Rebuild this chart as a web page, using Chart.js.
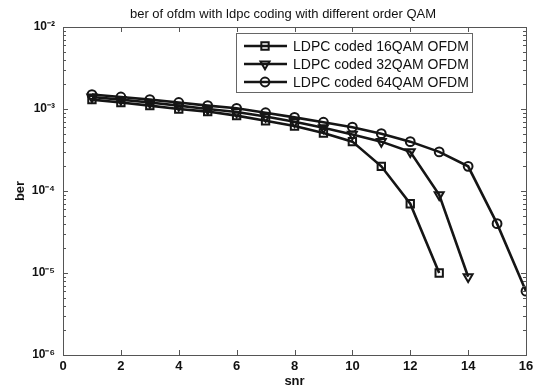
<!DOCTYPE html>
<html>
<head>
<meta charset="utf-8">
<script src="https://cdn.jsdelivr.net/npm/chart.js@4/dist/chart.umd.min.js"></script>
<style>
  html, body { margin: 0; padding: 0; background: #fff; }
  #wrap { width: 542px; height: 389px; }
</style>
</head>
<body>
<div id="wrap"><canvas id="c" width="542" height="389"></canvas></div>
<script>
// values
const snr = [1, 2, 3, 4, 5, 6, 7, 8, 9, 10, 11, 12, 13, 14, 15, 16];
const ber16 = [1.3e-3, 1.2e-3, 1.1e-3, 1.0e-3, 9.3e-4, 8.3e-4, 7.2e-4, 6.2e-4, 5.1e-4, 4.0e-4, 2.0e-4, 7e-5, 1e-5];
const ber32 = [1.4e-3, 1.3e-3, 1.2e-3, 1.1e-3, 1.0e-3, 9.2e-4, 8.1e-4, 7.0e-4, 5.9e-4, 4.9e-4, 4.0e-4, 3.0e-4, 9e-5, 9e-6];
const ber64 = [1.5e-3, 1.4e-3, 1.3e-3, 1.2e-3, 1.1e-3, 1.02e-3, 9.0e-4, 7.9e-4, 6.9e-4, 6.0e-4, 5.0e-4, 4.0e-4, 3.0e-4, 2.0e-4, 4e-5, 6e-6];
const seriesNames = ['LDPC coded 16QAM OFDM', 'LDPC coded 32QAM OFDM', 'LDPC coded 64QAM OFDM'];
const yDecades = [1e-6, 1e-5, 1e-4, 1e-3, 1e-2];
const yTickLabels = ['10\u207B\u2076', '10\u207B\u2075', '10\u207B\u2074', '10\u207B\u00B3', '10\u207B\u00B2'];
const titleText = 'ber of ofdm with ldpc coding with different order QAM';

const FONT = '"Liberation Sans", Arial, Helvetica, sans-serif';
Chart.defaults.font.family = FONT;
Chart.defaults.color = '#111';

const toPoints = (vals) => vals.map((v, i) => ({ x: snr[i], y: v }));

function lineSet(label, vals, style, rot) {
  return {
    label,
    data: toPoints(vals),
    borderColor: '#151515',
    borderWidth: 2.6,
    pointStyle: style,
    pointRotation: rot,
    pointRadius: style === 'circle' ? 4.4 : 5.2,
    pointBorderWidth: 2,
    pointBorderColor: '#151515',
    pointBackgroundColor: 'rgba(0,0,0,0)',
    tension: 0
  };
}

// axes box + inward ticks, MATLAB style
const framePlugin = {
  id: 'frame',
  afterDraw(chart) {
    const { ctx, chartArea: a, scales } = chart;
    const xs = scales.x, ys = scales.y;
    ctx.save();
    ctx.strokeStyle = '#555';
    ctx.lineWidth = 1;
    ctx.strokeRect(a.left + 0.5, a.top + 0.5, a.right - a.left, a.bottom - a.top);
    ctx.beginPath();
    xs.ticks.forEach(t => {
      const px = Math.round(xs.getPixelForValue(t.value)) + 0.5;
      ctx.moveTo(px, a.bottom); ctx.lineTo(px, a.bottom - 5);
      ctx.moveTo(px, a.top); ctx.lineTo(px, a.top + 5);
    });
    yDecades.forEach((d, i) => {
      const py = Math.round(ys.getPixelForValue(d)) + 0.5;
      ctx.moveTo(a.left, py); ctx.lineTo(a.left + 5, py);
      ctx.moveTo(a.right, py); ctx.lineTo(a.right - 5, py);
      if (i < yDecades.length - 1) {
        for (let k = 2; k <= 9; k++) {
          const pm = Math.round(ys.getPixelForValue(d * k)) + 0.5;
          ctx.moveTo(a.left, pm); ctx.lineTo(a.left + 3, pm);
          ctx.moveTo(a.right, pm); ctx.lineTo(a.right - 3, pm);
        }
      }
    });
    ctx.stroke();

    // title
    ctx.fillStyle = '#111';
    ctx.font = '13px ' + FONT;
    ctx.textAlign = 'center';
    ctx.textBaseline = 'middle';
    ctx.fillText(titleText, 283, 14);

    // legend box
    const lw = 236, lh = 59;
    const lx = a.right - 54 - lw, ly = a.top + 6;
    ctx.fillStyle = '#fff';
    ctx.fillRect(lx, ly, lw, lh);
    ctx.strokeStyle = '#666';
    ctx.strokeRect(lx + 0.5, ly + 0.5, lw, lh);
    chart.data.datasets.forEach((ds, i) => {
      const cy = ly + 13 + i * 18;
      ctx.strokeStyle = ds.borderColor;
      ctx.lineWidth = ds.borderWidth;
      ctx.beginPath();
      ctx.moveTo(lx + 8, cy); ctx.lineTo(lx + 51, cy);
      ctx.stroke();
      ctx.lineWidth = ds.pointBorderWidth;
      ctx.fillStyle = ds.pointBackgroundColor;
      Chart.helpers.drawPoint(ctx, {
        pointStyle: ds.pointStyle,
        rotation: ds.pointRotation || 0,
        radius: ds.pointRadius,
        borderWidth: ds.pointBorderWidth
      }, lx + 29, cy);
      ctx.fillStyle = '#111';
      ctx.font = '14px ' + FONT;
      ctx.textAlign = 'left';
      ctx.fillText(ds.label, lx + 57, cy + 1);
    });
    ctx.restore();
  }
};

new Chart(document.getElementById('c'), {
  type: 'line',
  data: {
    datasets: [
      lineSet(seriesNames[0], ber16, 'rect', 0),
      lineSet(seriesNames[1], ber32, 'triangle', 180),
      lineSet(seriesNames[2], ber64, 'circle', 0)
    ]
  },
  options: {
    responsive: false,
    animation: false,
    devicePixelRatio: 1,
    layout: { padding: { left: 0, right: 16, top: 27, bottom: 0 } },
    plugins: { legend: { display: false }, tooltip: { enabled: false } },
    scales: {
      x: {
        type: 'linear',
        min: 0, max: 16,
        grid: { display: false, drawTicks: false, tickLength: 0 },
        border: { display: false },
        ticks: { stepSize: 2, padding: 4, font: { size: 13, weight: 'bold' }, color: '#111' },
        title: { display: true, text: 'snr', font: { size: 13, weight: 'bold' }, padding: { top: 0, bottom: 0 }, color: '#111' },
        afterFit(s) { s.height = 34; }
      },
      y: {
        type: 'logarithmic',
        min: 1e-6, max: 1e-2,
        grid: { display: false, drawTicks: false, tickLength: 0 },
        border: { display: false },
        afterBuildTicks(s) { s.ticks = yDecades.map(v => ({ value: v })); },
        ticks: {
          autoSkip: false,
          padding: 8,
          font: { size: 12, weight: 'bold' },
          color: '#111',
          callback: (v, i) => yTickLabels[i]
        },
        title: { display: true, text: 'ber', font: { size: 13, weight: 'bold' }, padding: { top: 13, bottom: 0 }, color: '#111' },
        afterFit(s) { s.width = 63; }
      }
    }
  },
  plugins: [framePlugin]
});
</script>
</body>
</html>
